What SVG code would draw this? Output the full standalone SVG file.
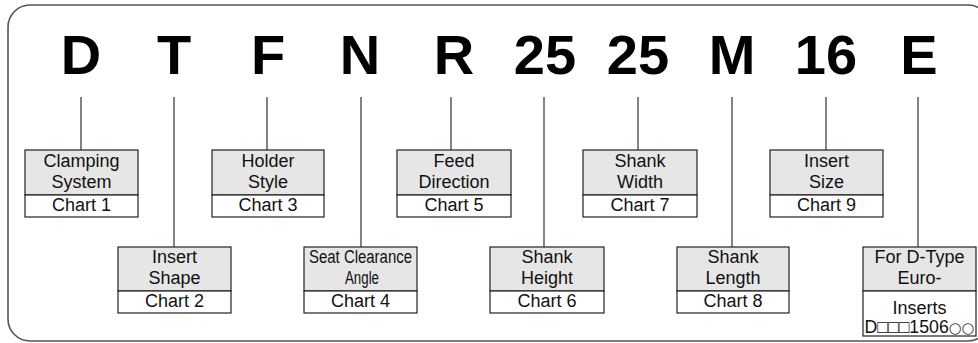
<svg xmlns="http://www.w3.org/2000/svg" width="978" height="343" viewBox="0 0 978 343">
<style>
.big{font-family:"Liberation Sans",Arial,sans-serif;font-weight:bold;font-size:56px;fill:#000;text-anchor:middle}
.lbl{font-family:"Liberation Sans",Arial,sans-serif;font-size:18px;fill:#111;text-anchor:middle}
.sym{font-family:"DejaVu Sans",sans-serif;font-size:15px;fill:#333}
.hd{fill:#e6e6e6;stroke:#222;stroke-width:1.2}
.ft{fill:#fff;stroke:#222;stroke-width:1.2}
.con line{stroke:#333;stroke-width:1.2}
</style>
<rect x="8" y="5" width="982" height="336" rx="22" ry="22" fill="none" stroke="#555" stroke-width="1.6"/>
<g id="code">
<text class="big" x="81" y="74">D</text>
<text class="big" x="174" y="74">T</text>
<text class="big" x="268" y="74">F</text>
<text class="big" x="360" y="74">N</text>
<text class="big" x="454" y="74">R</text>
<text class="big" x="545" y="74">25</text>
<text class="big" x="638" y="74">25</text>
<text class="big" x="732" y="74">M</text>
<text class="big" x="826" y="74">16</text>
<text class="big" x="919" y="74">E</text>
</g>
<g class="con" id="connectors">
<line x1="81" y1="97" x2="81" y2="150"/>
<line x1="174" y1="97" x2="174" y2="247"/>
<line x1="267" y1="97" x2="267" y2="150"/>
<line x1="361" y1="97" x2="361" y2="247"/>
<line x1="451" y1="97" x2="451" y2="150"/>
<line x1="544" y1="97" x2="544" y2="247"/>
<line x1="638" y1="97" x2="638" y2="150"/>
<line x1="732" y1="97" x2="732" y2="247"/>
<line x1="826" y1="97" x2="826" y2="150"/>
<line x1="918" y1="97" x2="918" y2="247"/>
</g>
<g id="n1">
<rect class="hd" x="25" y="150" width="113" height="45"/>
<rect class="ft" x="25" y="195" width="113" height="22"/>
<text class="lbl" x="81.5" y="167">Clamping</text>
<text class="lbl" x="81.5" y="188">System</text>
<text class="lbl" x="81.5" y="211">Chart 1</text>
</g>
<g id="n2">
<rect class="hd" x="118" y="247" width="113" height="44"/>
<rect class="ft" x="118" y="291" width="113" height="22"/>
<text class="lbl" x="174.5" y="263">Insert</text>
<text class="lbl" x="174.5" y="284">Shape</text>
<text class="lbl" x="174.5" y="307">Chart 2</text>
</g>
<g id="n3">
<rect class="hd" x="212" y="150" width="112" height="45"/>
<rect class="ft" x="212" y="195" width="112" height="22"/>
<text class="lbl" x="268" y="167">Holder</text>
<text class="lbl" x="268" y="188">Style</text>
<text class="lbl" x="268" y="211">Chart 3</text>
</g>
<g id="n4">
<rect class="hd" x="304" y="247" width="113" height="44"/>
<rect class="ft" x="304" y="291" width="113" height="22"/>
<text class="lbl" x="360.5" y="263" textLength="103" lengthAdjust="spacingAndGlyphs">Seat Clearance</text>
<text class="lbl" x="362" y="284" textLength="34" lengthAdjust="spacingAndGlyphs">Angle</text>
<text class="lbl" x="360.5" y="307">Chart 4</text>
</g>
<g id="n5">
<rect class="hd" x="397" y="150" width="114" height="45"/>
<rect class="ft" x="397" y="195" width="114" height="22"/>
<text class="lbl" x="454" y="167">Feed</text>
<text class="lbl" x="454" y="188">Direction</text>
<text class="lbl" x="454" y="211">Chart 5</text>
</g>
<g id="n6">
<rect class="hd" x="490" y="247" width="114" height="44"/>
<rect class="ft" x="490" y="291" width="114" height="22"/>
<text class="lbl" x="547" y="263">Shank</text>
<text class="lbl" x="547" y="284">Height</text>
<text class="lbl" x="547" y="307">Chart 6</text>
</g>
<g id="n7">
<rect class="hd" x="583" y="150" width="114" height="45"/>
<rect class="ft" x="583" y="195" width="114" height="22"/>
<text class="lbl" x="640" y="167">Shank</text>
<text class="lbl" x="640" y="188">Width</text>
<text class="lbl" x="640" y="211">Chart 7</text>
</g>
<g id="n8">
<rect class="hd" x="677" y="247" width="112" height="44"/>
<rect class="ft" x="677" y="291" width="112" height="22"/>
<text class="lbl" x="733" y="263">Shank</text>
<text class="lbl" x="733" y="284">Length</text>
<text class="lbl" x="733" y="307">Chart 8</text>
</g>
<g id="n9">
<rect class="hd" x="770" y="150" width="113" height="45"/>
<rect class="ft" x="770" y="195" width="113" height="22"/>
<text class="lbl" x="826.5" y="167">Insert</text>
<text class="lbl" x="826.5" y="188">Size</text>
<text class="lbl" x="826.5" y="211">Chart 9</text>
</g>
<g id="n10">
<rect class="hd" x="863" y="247" width="113" height="44"/>
<rect class="ft" x="863" y="291" width="113" height="45"/>
<text class="lbl" x="919.5" y="263">For D-Type</text>
<text class="lbl" x="919.5" y="284">Euro-</text>
<text class="lbl" x="919.5" y="314">Inserts</text>
<text class="lbl" x="919.5" y="333" textLength="110" lengthAdjust="spacingAndGlyphs">D□□□1506<tspan class="sym">○○</tspan></text>
</g>
</svg>
